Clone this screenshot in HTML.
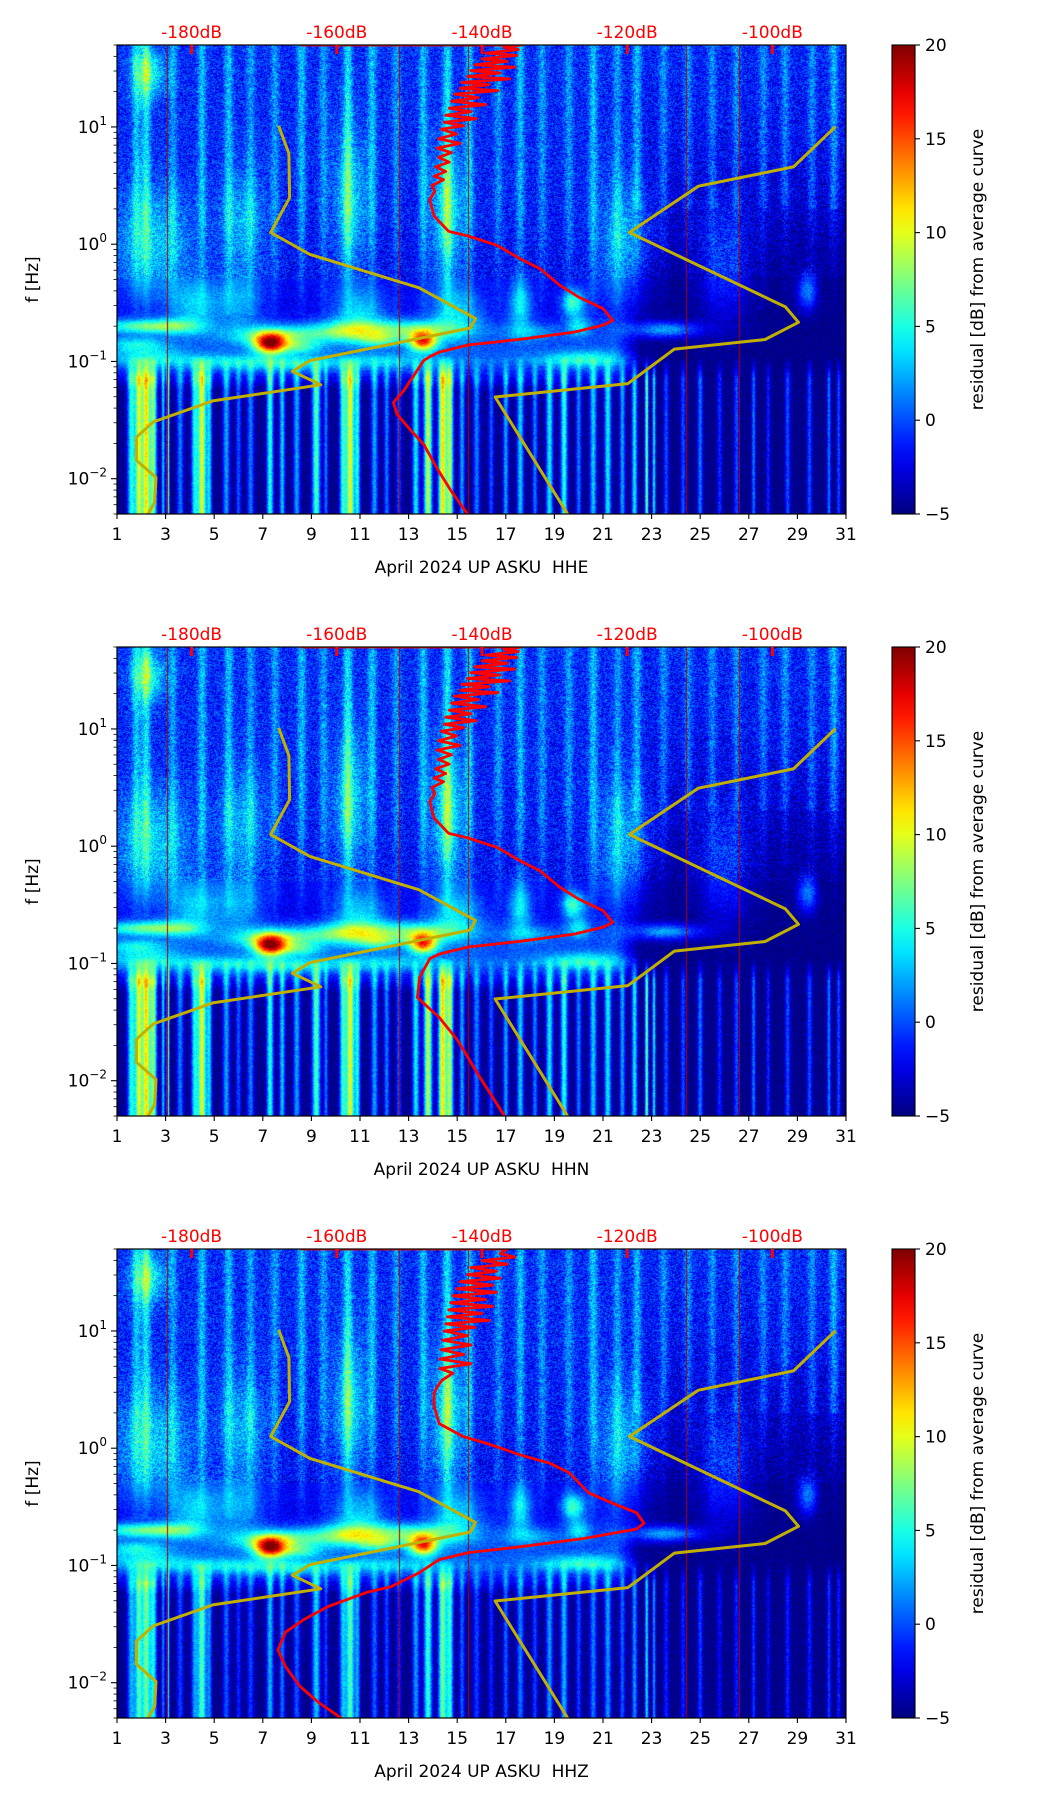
<!DOCTYPE html>
<html><head><meta charset="utf-8">
<style>
html,body{margin:0;padding:0;background:#fff;}
#wrap{position:relative;width:1052px;height:1806px;overflow:hidden;font-family:"DejaVu Sans","Liberation Sans",sans-serif;}
canvas{position:absolute;}
svg{position:absolute;left:0;top:0;}
text{white-space:pre;}
</style></head>
<body>
<div id="wrap">
<canvas id="c0" width="729" height="469" style="left:117px;top:45px"></canvas>
<canvas id="c1" width="729" height="469" style="left:117px;top:647px"></canvas>
<canvas id="c2" width="729" height="469" style="left:117px;top:1249px"></canvas>
<svg id="ov" width="1052" height="1806" xmlns="http://www.w3.org/2000/svg"></svg>
</div>
<script>
// ---------- data ----------
const panelTitles = ["April 2024 UP ASKU  HHE","April 2024 UP ASKU  HHN","April 2024 UP ASKU  HHZ"];
const dayTicks = [1,3,5,7,9,11,13,15,17,19,21,23,25,27,29,31];
const dbTicks = [-180,-160,-140,-120,-100];
const yDecades = [-2,-1,0,1];
const cbTicks = [-5,0,5,10,15,20];

// baseline residual by log10(f)
const baseLf    = [1.70, 1.0, 0.3, -0.3, -0.55, -0.68, -0.78, -0.9, -1.0, -1.1, -1.25, -2.31];
const baseEarly = [-1.0,-1.2,-1.5,-2.0, -2.4, -1.2,  -0.5,  0.0, 0.5, -1.5, -4.6, -5.0];
const baseLate  = [-1.2,-1.8,-3.2,-5.0, -5.0, -5.0,  -5.0, -5.0, -5.0, -5.0, -5.0, -5.0];

// upper vertical streaks: day, amplitude
const upStreakDay = [1.8,2.2,3.3,4.5,5.6,6.5,7.5,8.6,9.5,10.5,11.5,12.5,13.6,14.6,15.5,16.7,17.6,18.5,19.6,20.6,21.6,22.4,23.5,24.5,25.5,26.5,27.6,28.5,29.6,30.5];
const upStreakAmp = [4,5,3,4,4,3,3,4,3,5,4,3,4,5,4,3,4,3,3,4,3,4,3,3,3,3,3,3,3,4];

// low-frequency vertical streaks: day, amplitude, width(days)
const lowDay = [1.6,1.9,2.2,2.5,2.9,3.1,3.6,4.2,4.5,4.8,5.5,6.0,6.5,7.3,7.8,8.4,9.2,9.6,10.3,10.6,10.9,11.6,12.1,12.6,13.3,13.8,14.4,14.7,15.2,15.8,16.4,17.0,17.6,18.2,18.8,19.4,20.0,20.6,21.2,21.8,22.3,22.8,23.1,23.6,24.3,25.0,25.8,26.5,27.2,27.8,28.6,29.5,30.3,30.7];
const lowAmp = [10,14,16,12,8,14,6,9,15,8,7,5,6,10,8,7,11,6,10,15,9,7,6,5,9,14,16,13,7,6,5,7,8,6,9,10,6,8,9,7,9,12,9,5,5,6,4,5,6,4,5,5,6,5];
const lowW = [0.12,0.1,0.12,0.1,0.05,0.04,0.1,0.1,0.12,0.08,0.1,0.08,0.1,0.1,0.08,0.1,0.12,0.06,0.1,0.12,0.08,0.1,0.08,0.08,0.1,0.12,0.12,0.1,0.08,0.1,0.08,0.08,0.1,0.08,0.1,0.1,0.08,0.1,0.1,0.08,0.08,0.05,0.05,0.08,0.08,0.08,0.08,0.08,0.06,0.06,0.08,0.08,0.06,0.06];
const lowGain = [1.0, 1.0, 0.75];

// thin dark-red glitch lines
const glitchDay = [3.05, 12.6, 15.45, 24.4, 26.6];

// blobs: day, log10 f, day-sigma, logf-sigma, amplitude
const blobDay = [7.3, 13.6, 7.6, 10.5, 13.2, 3.5, 2.0, 19.8, 20.0, 23.6, 20.2, 4.2, 6.0, 11.0, 15.0, 17.6, 29.4, 2.3, 2.5, 6.2, 10.6, 14.6, 22.0, 26.0, 2.2, 18.0, 5.0, 1.8, 8.0, 12.0, 8.5, 11.8];
const blobLf  = [-0.85,-0.83,-0.78,-0.74,-0.73,-0.70,-0.70,-0.50,-0.70,-0.73,-0.98,-0.52,-0.50,-0.58,-0.58,-0.52,-0.40,1.45,0.0,0.15,0.35,0.25,0.0,-0.2,-0.95,-0.75,-1.0,-0.85,-1.02,-1.0,-0.88,-0.82];
const blobSd  = [0.45,0.40,1.3,1.1,1.4,0.8,1.2,0.35,0.35,1.0,1.2,0.7,0.7,0.8,0.8,0.35,0.3,0.5,1.2,0.7,0.5,0.5,0.8,0.8,1.0,0.8,1.5,0.8,1.5,1.5,0.6,0.6];
const blobSl  = [0.06,0.06,0.06,0.06,0.06,0.05,0.04,0.08,0.06,0.05,0.05,0.15,0.15,0.15,0.15,0.15,0.12,0.15,0.35,0.35,0.45,0.45,0.4,0.35,0.06,0.05,0.05,0.04,0.05,0.05,0.04,0.04];
const blobAmp = [17,15,8,7,7,4,7,8,5,7,5,5,4,5,5,6,6,6,5,4,5,6,5,4,4,3,3,4,4,3,5,5];

// yellow noise models (log10 f, dB)
const nlnmLf = [1.009,0.773,0.397,0.100,-0.087,-0.371,-0.633,-0.715,-0.993,-1.084,-1.199,-1.336,-1.516,-1.647,-1.843,-1.990,-2.203,-2.301];
const nlnmDb = [-168.0,-166.6,-166.5,-169.1,-163.7,-148.7,-140.9,-141.6,-163.7,-166.1,-162.2,-177.1,-185.3,-187.6,-187.6,-184.9,-185.1,-186.0];
const nhnmLf = [1.002,0.659,0.495,0.100,-0.535,-0.666,-0.813,-0.895,-1.189,-1.303,-2.301];
const nhnmDb = [-91.3,-97.1,-110.2,-119.7,-98.2,-96.4,-101.0,-113.5,-119.9,-138.2,-128.2];

// red average curves (log10 f, dB) — jagged track
const redTopLf = [1.699,1.699,1.68,1.66,1.63,1.61,1.58,1.56,1.53,1.51,1.48,1.46,1.43,1.41,1.38,1.36,1.33,1.31,1.28,1.25,1.22,1.19,1.16,1.13,1.10,1.07,1.04,1.01,0.98,0.94,0.90,0.86,0.82,0.78,0.74,0.70,0.66,0.62,0.58,0.55,0.50,0.45,0.38,0.24,0.11,0.07,-0.01,-0.13,-0.21,-0.35,-0.45,-0.55,-0.65,-0.69,-0.75,-0.81,-0.86,-0.92,-0.96];
const redTopDb = [-165,-134.5,-137,-135,-139.5,-135.2,-140,-136.5,-141,-135.5,-141.5,-137.5,-142,-136.2,-142.8,-139.0,-143,-137.8,-143.8,-140.5,-144.2,-139.5,-144.5,-141.5,-145,-140.8,-145.2,-142.5,-145.6,-143.5,-146,-143,-146.2,-144.2,-146,-144.5,-146.4,-145,-146.6,-145.3,-146.9,-146.5,-147.2,-146.6,-144.6,-141.9,-137.9,-134.6,-132.0,-129.3,-126.7,-123.3,-122.0,-123.3,-127.3,-134.6,-141.9,-145.9,-147.2];
const red1LowLf = [-0.99,-1.25,-1.35,-1.45,-1.58,-1.71,-1.91,-2.10,-2.30];
const red1LowDb = [-148.0,-150.8,-152.2,-151.7,-149.9,-148.0,-146.2,-144.3,-142.0];
const red2LowLf = [-1.12,-1.29,-1.46,-1.66,-1.94,-2.30];
const red2LowDb = [-148.6,-148.9,-145.9,-143.3,-140.6,-136.9];
const red3Lf = [1.699,1.699,1.66,1.63,1.60,1.57,1.54,1.51,1.48,1.45,1.42,1.39,1.36,1.33,1.30,1.27,1.24,1.21,1.18,1.15,1.12,1.09,1.06,1.03,1.00,0.96,0.92,0.88,0.84,0.80,0.76,0.72,0.68,0.64,0.58,0.52,0.47,0.36,0.21,0.10,0.04,-0.06,-0.13,-0.21,-0.38,-0.47,-0.55,-0.64,-0.69,-0.77,-0.84,-0.89,-0.95,-1.06,-1.18,-1.23,-1.35,-1.46,-1.57,-1.72,-1.86,-2.03,-2.17,-2.30];
const red3Db = [-165,-136.5,-137.5,-135.5,-140,-136.5,-141.5,-138,-142,-137.5,-143,-138.5,-143.5,-138,-144,-139.5,-144.3,-138.5,-144.6,-140,-144.8,-139,-145.0,-141,-145.2,-142,-145.4,-141.5,-145.6,-142.5,-145.8,-141.5,-145.8,-144,-145.5,-146.2,-146.6,-146.6,-145.9,-142.6,-139.3,-134.6,-130.6,-128.0,-125.3,-122.0,-118.7,-117.7,-118.7,-126.0,-134.6,-141.9,-145.9,-148.6,-152.5,-155.9,-161.2,-164.5,-167.1,-168.1,-167.1,-165.1,-162.5,-159.4];

// ---------- geometry ----------
const AX_L = 117, AX_W = 729, AX_H = 469;
const PANEL_TOP = [45, 647, 1249];
const LF_TOP = Math.log10(50), LF_BOT = Math.log10(0.005);
const CB_X = 892, CB_W = 23;
function xDay(d){ return AX_L + (d-1)/30*AX_W; }
function yLf(lf, p){ return PANEL_TOP[p] + (LF_TOP-lf)/(LF_TOP-LF_BOT)*AX_H; }
function xDb(db){ return xDay(4.07 + (db+180)/20*5.975); }
function yCb(v, p){ return PANEL_TOP[p] + (20-v)/25*AX_H; }

function jet(t){
  t=Math.max(0,Math.min(1,t));
  const c=x=>Math.max(0,Math.min(1,x));
  return [c(1.5-Math.abs(4*t-3))*255, c(1.5-Math.abs(4*t-2))*255, c(1.5-Math.abs(4*t-1))*255];
}
function interp(xs, ys, x){
  if (x>=xs[0]) return ys[0];
  for (let i=1;i<xs.length;i++){ if (x>=xs[i]){ const f=(x-xs[i])/(xs[i-1]-xs[i]); return ys[i]+f*(ys[i-1]-ys[i]); } }
  return ys[ys.length-1];
}
function hash(a,b){ let h = (a*374761393 + b*668265263) ^ 0x5bd1e995; h = (h ^ (h>>>13))*1274126177; h = h ^ (h>>>16); return ((h>>>0)%10000)/10000; }

// ---------- heatmaps ----------
function drawHeat(p){
  const cv=document.getElementById('c'+p), ctx=cv.getContext('2d');
  const W=cv.width, H=cv.height, img=ctx.createImageData(W,H);
  const upCol=new Float32Array(W), lowCol=new Float32Array(W), gl=new Uint8Array(W), dayCol=new Float32Array(W);
  for (let x=0;x<W;x++){
    const d=1+(x+0.5)/W*30; dayCol[x]=d;
    let u=0; for (let i=0;i<upStreakDay.length;i++){ const z=(d-upStreakDay[i])/0.13; if (Math.abs(z)<4) u+=upStreakAmp[i]*Math.exp(-0.5*z*z); }
    let l=0; for (let i=0;i<lowDay.length;i++){ const z=(d-lowDay[i])/lowW[i]; if (Math.abs(z)<4) l+=lowAmp[i]*Math.exp(-0.5*z*z); }
    upCol[x]=u; lowCol[x]=l*lowGain[p];
    for (const g of glitchDay){ if (Math.abs(xDay(g)-AX_L-x)<0.6) gl[x]=1; }
  }
  for (let y=0;y<H;y++){
    const lf = LF_TOP-(y+0.5)/H*(LF_TOP-LF_BOT);
    const bE=interp(baseLf,baseEarly,lf), bL=interp(baseLf,baseLate,lf);
    const upW = lf>0.3?1:(lf>-0.6?(lf+0.6)/0.9*0.8+0.2:0.0);
    const lowWt = lf<-1.15?1:(lf<-0.95?(-0.95-lf)/0.2:0);
    const noiseAmp = lf>-0.3?2.4:1.2;
    for (let x=0;x<W;x++){
      const d=dayCol[x];
      const mix = d<21.5?0:(d>22.5?1:(d-21.5));
      let v = bE*(1-mix)+bL*mix;
      v += upCol[x]*upW*(mix>0.5 && lf<0.3 && lf>-1.2 ? 0.5:1);
      v += lowCol[x]*lowWt;
      for (let i=0;i<blobDay.length;i++){
        const zd=(d-blobDay[i])/blobSd[i]; if (Math.abs(zd)>3.5) continue;
        const zl=(lf-blobLf[i])/blobSl[i]; if (Math.abs(zl)>3.5) continue;
        v += blobAmp[i]*Math.exp(-0.5*(zd*zd+zl*zl));
      }
      v += (hash(x,y+p*1000)-0.5)*2*noiseAmp;
      if (gl[x]) v=19;
      const c=jet((v+5)/25), k=(y*W+x)*4;
      img.data[k]=c[0]; img.data[k+1]=c[1]; img.data[k+2]=c[2]; img.data[k+3]=255;
    }
  }
  ctx.putImageData(img,0,0);
}

// ---------- SVG overlay ----------
const NS="http://www.w3.org/2000/svg", svg=document.getElementById('ov');
function mk(tag, attrs, parent){ const e=document.createElementNS(NS,tag); for (const k in attrs) e.setAttribute(k,attrs[k]); (parent||svg).appendChild(e); return e; }

const defs=mk('defs',{});
const grad=mk('linearGradient',{id:'jetg',x1:'0',y1:'1',x2:'0',y2:'0'},defs);
for (let i=0;i<=20;i++){ const c=jet(i/20); mk('stop',{offset:(i/20),'stop-color':`rgb(${c[0]|0},${c[1]|0},${c[2]|0})`},grad); }

function poly(lfs, dbs, p, color, w, name, g){
  const pts=lfs.map((lf,i)=>xDb(dbs[i]).toFixed(1)+','+yLf(lf,p).toFixed(1)).join(' ');
  const e=mk('polyline',{points:pts,fill:'none',stroke:color,'stroke-width':w,'stroke-linejoin':'round'},g);
  
  
}

for (let p=0;p<3;p++){
  const top=PANEL_TOP[p], bot=top+AX_H;
  const g=mk('g',{});
  
  
  const cp=mk('clipPath',{id:'clip'+p},defs);
  mk('rect',{x:AX_L,y:top,width:AX_W,height:AX_H},cp);
  const lines=mk('g',{'clip-path':`url(#clip${p})`},g);
  
  
  poly(nlnmLf,nlnmDb,p,'#c2b000',3,'nlnm-curve',lines);
  poly(nhnmLf,nhnmDb,p,'#c2b000',3,'nhnm-curve',lines);
  if (p<2){
    const lo = p===0 ? [red1LowLf,red1LowDb] : [red2LowLf,red2LowDb];
    poly(redTopLf.concat(lo[0]), redTopDb.concat(lo[1]), p, '#ff0000', 2.8, 'average-curve', lines);
  } else {
    poly(red3Lf, red3Db, p, '#ff0000', 2.8, 'average-curve', lines);
  }
  const fr=mk('rect',{x:AX_L,y:top,width:AX_W,height:AX_H,fill:'none',stroke:'#000','stroke-width':1.2},g);
  
  
  for (const d of dayTicks){
    const x=xDay(d);
    mk('line',{x1:x,y1:bot,x2:x,y2:bot+5,stroke:'#000','stroke-width':1.1},g);
    const t=mk('text',{x:x,y:bot+26,'font-size':17,'text-anchor':'middle',fill:'#000'},g);
    t.textContent=d;
    
    
  }
  const xl=mk('text',{x:AX_L+AX_W/2,y:bot+59,'font-size':17,'text-anchor':'middle',fill:'#000'},g);
  xl.textContent=panelTitles[p];
  
  
  for (const db of dbTicks){
    const x=xDb(db);
    mk('line',{x1:x,y1:top,x2:x,y2:top+9,stroke:'#ff0000','stroke-width':3},g);
    const t=mk('text',{x:x,y:top-7,'font-size':17,'text-anchor':'middle',fill:'#ff0000'},g);
    t.textContent=db+'dB';
    
    
  }
  for (let dec=-3; dec<=1; dec++){
    for (let m=1;m<=9;m++){
      const lf=dec+Math.log10(m);
      if (lf<LF_BOT-1e-6||lf>LF_TOP+1e-6) continue;
      const y=yLf(lf,p), major=(m===1);
      mk('line',{x1:AX_L,y1:y,x2:AX_L-(major?6:3.5),y2:y,stroke:'#000','stroke-width':major?1.1:0.8},g);
    }
  }
  for (const dec of yDecades){
    const y=yLf(dec,p);
    const t=mk('text',{x:AX_L-10,y:y+6,'font-size':17,'text-anchor':'end',fill:'#000'},g);
    
    
    const a=mk('tspan',{},t); a.textContent='10';
    const b=mk('tspan',{dy:-8,'font-size':12},t); b.textContent=(dec<0?'\u2212':'')+Math.abs(dec);
  }
  const yl=mk('text',{x:0,y:0,'font-size':17,'text-anchor':'middle',fill:'#000',transform:`translate(38,${top+AX_H/2}) rotate(-90)`},g);
  yl.textContent='f [Hz]';
  
  
  const cb=mk('rect',{x:CB_X,y:top,width:CB_W,height:AX_H,fill:'url(#jetg)',stroke:'#000','stroke-width':1.1},g);
  
  
  for (const v of cbTicks){
    const y=yCb(v,p);
    mk('line',{x1:CB_X+CB_W,y1:y,x2:CB_X+CB_W+5,y2:y,stroke:'#000','stroke-width':1.1},g);
    const t=mk('text',{x:CB_X+CB_W+10,y:y+6,'font-size':17,fill:'#000'},g);
    t.textContent=(v<0?'\u2212':'')+Math.abs(v);
    
    
  }
  const cl=mk('text',{x:0,y:0,'font-size':17,'text-anchor':'middle',fill:'#000',transform:`translate(983,${top+AX_H/2-10}) rotate(-90)`},g);
  cl.textContent='residual [dB] from average curve';
  
  
}
for (let p=0;p<3;p++) drawHeat(p);
</script>
</body></html>
